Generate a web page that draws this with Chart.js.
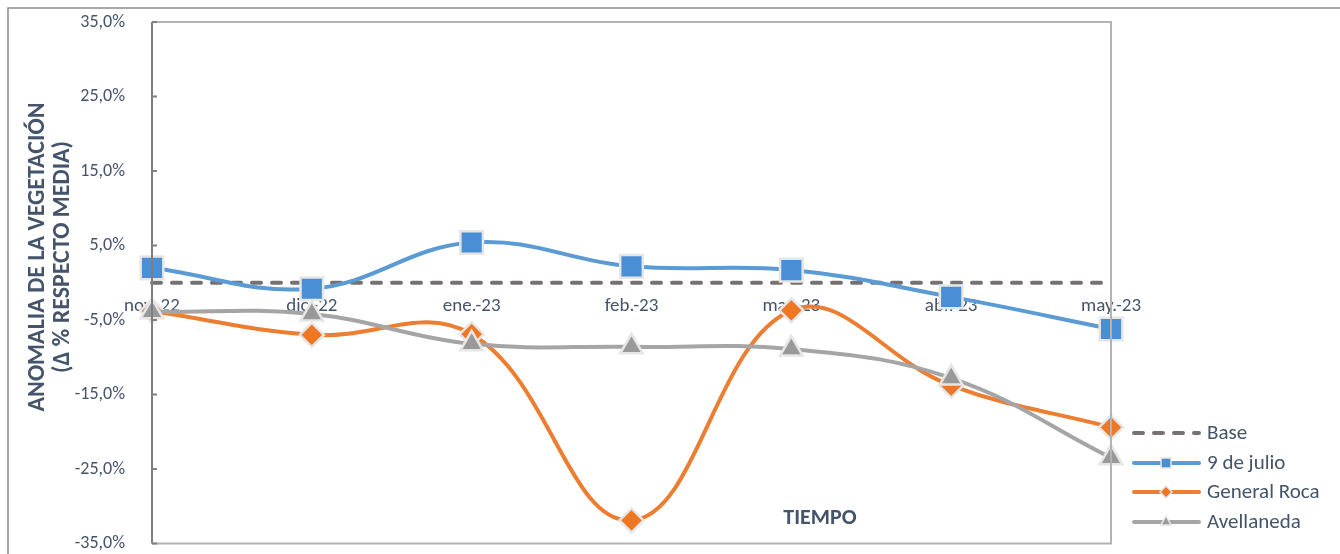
<!DOCTYPE html>
<html>
<head>
<meta charset="utf-8">
<script src="https://cdn.jsdelivr.net/npm/chart.js@4.4.0/dist/chart.umd.min.js"></script>
<style>
  html, body { margin: 0; padding: 0; background: #fff; overflow: hidden; }
  #wrap { width: 1340px; height: 562px; position: relative; }
</style>
</head>
<body>
<div id="wrap"><canvas id="anomaliaChart"></canvas></div>
<script>
const months = ["nov.-22", "dic.-22", "ene.-23", "feb.-23", "mar.-23", "abr.-23", "may.-23"];
const base = [0, 0, 0, 0, 0, 0, 0];
const nueveDeJulio = [2.0, -0.8, 5.4, 2.2, 1.7, -1.9, -6.2];
const generalRoca = [-3.8, -7.0, -6.9, -31.9, -3.7, -13.8, -19.4];
const avellaneda = [-3.9, -4.2, -8.2, -8.6, -8.9, -12.8, -23.5];
const yMin = -35, yMax = 35, yStep = 10;

const textColor = "#44546A";
const fontFamily = "Carlito, Lato, 'Open Sans', sans-serif";

// frame, y title, category labels on the zero line, TIEMPO and legend
const extras = {
  id: "extras",
  beforeDraw(chart) {
    const ctx = chart.ctx;
    ctx.save();
    ctx.strokeStyle = "#8c8c8c";
    ctx.lineWidth = 1.5;
    ctx.beginPath();
    ctx.moveTo(8, 570);
    ctx.lineTo(8, 8);
    ctx.lineTo(1345, 8);
    ctx.stroke();
    ctx.restore();
  },
  beforeDatasetsDraw(chart) {
    const ctx = chart.ctx;
    const x = chart.scales.x;
    const y0 = chart.scales.y.getPixelForValue(0);
    ctx.save();
    ctx.fillStyle = textColor;
    ctx.font = "19px " + fontFamily;
    ctx.textAlign = "center";
    ctx.textBaseline = "middle";
    chart.data.labels.forEach((lab, i) => {
      ctx.fillText(lab, x.getPixelForValue(i), y0 + 23);
    });
    ctx.restore();
  },
  afterDatasetsDraw(chart) {
    const ctx = chart.ctx;
    const a = chart.chartArea;
    const y = chart.scales.y;
    ctx.save();
    // plot area border
    ctx.lineWidth = 2;
    ctx.strokeStyle = "#b3b3b3";
    ctx.beginPath();
    ctx.moveTo(a.left, a.top);
    ctx.lineTo(a.right, a.top);
    ctx.lineTo(a.right, a.bottom);
    ctx.lineTo(a.left, a.bottom);
    ctx.stroke();
    ctx.strokeStyle = "#7f7f7f";
    ctx.beginPath();
    ctx.moveTo(a.left, a.top);
    ctx.lineTo(a.left, a.bottom);
    y.ticks.forEach(t => {
      const py = y.getPixelForValue(t.value);
      ctx.moveTo(a.left, py);
      ctx.lineTo(a.left + 5, py);
    });
    ctx.stroke();

    // y axis title
    ctx.fillStyle = textColor;
    ctx.font = "bold 24px " + fontFamily;
    ctx.textAlign = "center";
    ctx.textBaseline = "middle";
    ctx.translate(0, 257);
    ctx.rotate(-Math.PI / 2);
    ctx.fillText("ANOMALIA DE LA VEGETACIÓN", 0, 38);
    ctx.fillText("(Δ % RESPECTO MEDIA)", 0, 63);
    ctx.restore();

    ctx.save();
    ctx.fillStyle = textColor;
    ctx.font = "bold 22px " + fontFamily;
    ctx.textAlign = "center";
    ctx.textBaseline = "middle";
    ctx.fillText("TIEMPO", 820, 518);

    // legend
    const rows = [433, 463, 492, 522];
    ctx.font = "21px " + fontFamily;
    ctx.textAlign = "left";
    chart.data.datasets.forEach((ds, i) => {
      const ry = rows[i];
      ctx.save();
      ctx.strokeStyle = ds.borderColor;
      ctx.lineWidth = ds.borderWidth;
      ctx.lineCap = "round";
      if (ds.borderDash) ctx.setLineDash(ds.borderDash);
      ctx.beginPath();
      ctx.moveTo(1134, ry);
      ctx.lineTo(1199, ry);
      ctx.stroke();
      ctx.restore();
      if (ds.pointRadius > 0) {
        ctx.save();
        ctx.fillStyle = ds.pointBackgroundColor;
        ctx.strokeStyle = ds.pointBorderColor;
        ctx.lineWidth = 1.5;
        Chart.helpers.drawPoint(ctx, {
          pointStyle: ds.pointStyle,
          radius: ds.legendRadius,
          rotation: 0,
          borderWidth: 1.5
        }, 1166, ry);
        ctx.restore();
      }
      ctx.fillStyle = textColor;
      ctx.fillText(ds.label, 1207, ry + 1);
    });
    ctx.restore();
  }
};

new Chart("anomaliaChart", {
  type: "line",
  data: {
    labels: months,
    datasets: [
      {
        label: "Base",
        data: base,
        borderColor: "#767171",
        borderWidth: 4,
        borderDash: [9, 11],
        borderCapStyle: "round",
        pointRadius: 0,
        tension: 0,
        order: 3
      },
      {
        label: "9 de julio",
        data: nueveDeJulio,
        borderColor: "#5B9BD5",
        borderWidth: 4,
        pointStyle: "rect",
        pointRadius: 16,
        legendRadius: 7,
        pointBackgroundColor: "#4a8ed6",
        pointBorderColor: "#e6e6e6",
        pointBorderWidth: 2.5,
        tension: 0.4,
        order: 2
      },
      {
        label: "General Roca",
        data: generalRoca,
        borderColor: "#ED7D31",
        borderWidth: 4,
        pointStyle: "rectRot",
        pointRadius: 12,
        legendRadius: 6,
        pointBackgroundColor: "#ef7622",
        pointBorderColor: "#e6e6e6",
        pointBorderWidth: 2.5,
        tension: 0.4,
        order: 1
      },
      {
        label: "Avellaneda",
        data: avellaneda,
        borderColor: "#A5A5A5",
        borderWidth: 4,
        pointStyle: "triangle",
        pointRadius: 13,
        legendRadius: 6,
        pointBackgroundColor: "#999999",
        pointBorderColor: "#e6e6e6",
        pointBorderWidth: 2.5,
        tension: 0.4,
        order: 0
      }
    ]
  },
  options: {
    responsive: true,
    maintainAspectRatio: false,
    animation: false,
    layout: { padding: { left: 0, top: 22, right: 229, bottom: 13 } },
    plugins: {
      legend: { display: false },
      tooltip: { enabled: false }
    },
    scales: {
      x: {
        display: false,
        offset: false
      },
      y: {
        min: yMin,
        max: yMax,
        grid: { display: false },
        border: { display: false },
        afterFit(scale) {
          scale.width = 152;
          scale.paddingTop = 0;
          scale.paddingBottom = 0;
        },
        ticks: {
          stepSize: yStep,
          color: textColor,
          font: { family: fontFamily, size: 18 },
          padding: 19,
          callback: v => v.toFixed(1).replace(".", ",") + "%"
        }
      }
    }
  },
  plugins: [extras]
});
</script>
</body>
</html>
